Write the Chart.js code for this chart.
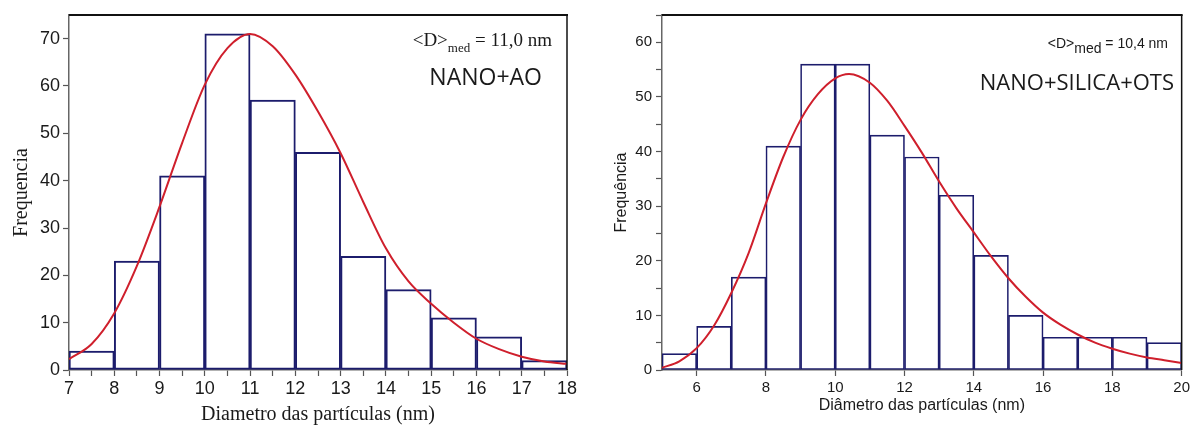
<!DOCTYPE html>
<html>
<head>
<meta charset="utf-8">
<script src="https://cdn.jsdelivr.net/npm/chart.js@4.4.0/dist/chart.umd.min.js"></script>
<style>
    body { margin: 0; background: #fff; }
    canvas { position: absolute; top: 0; }
    #left-chart { left: 0; }
    #right-chart { left: 600px; }
</style>
</head>
<body>
<canvas id="left-chart" width="596" height="428"></canvas>
<canvas id="right-chart" width="593" height="428"></canvas>
<script>
// NANO+AO histogram (bins of 1 nm from 7 to 18)
const binsA = ['7-8', '8-9', '9-10', '10-11', '11-12', '12-13', '13-14', '14-15', '15-16', '16-17', '17-18']
const countsA = [4, 23, 41, 71, 57, 46, 24, 17, 11, 7, 2]
// fitted curve
const fitXA = [7, 7.5, 8, 8.5, 9, 9.5, 10, 10.5, 11, 11.5, 12, 12.5, 13, 13.5, 14, 14.5, 15, 15.5, 16, 16.5, 17, 17.5, 18]
const fitYA = [2.3, 5.5, 12, 22, 34.5, 48, 60.3, 68, 71, 68.4, 62.4, 54.6, 45.8, 35.5, 25.7, 18.7, 14, 10, 6.6, 4.4, 2.8, 1.8, 1.3]

// NANO+SILICA+OTS histogram (bins of 1 nm from 5 to 20)
const binsB = ['5-6', '6-7', '7-8', '8-9', '9-10', '10-11', '11-12', '12-13', '13-14', '14-15', '15-16', '16-17', '17-18', '18-19', '19-20']
const countsB = [3, 8, 17, 41, 56, 56, 43, 39, 32, 21, 10, 6, 6, 6, 5]
const fitXB = [5, 5.5, 6, 6.5, 7, 7.5, 8, 8.5, 9, 9.5, 10, 10.4, 11, 11.5, 12, 12.5, 13, 13.5, 14, 14.5, 15, 15.5, 16, 16.5, 17, 17.5, 18, 18.5, 19, 19.5, 20]
const fitYB = [0.4, 1.6, 4.0, 8.1, 14.1, 21.4, 30.5, 39, 45.8, 50.5, 53.4, 54.2, 52.6, 49.3, 44.7, 39.8, 34.5, 29.6, 25.2, 20.8, 16.8, 13.4, 10.5, 8.3, 6.5, 5.0, 3.9, 3.0, 2.3, 1.8, 1.3]
const xTicksB = [6, 8, 10, 12, 14, 16, 18, 20]

const navy = '#1c1c6c'
const red = '#cf1f2c'
const ink = '#1a1a1a'


function toPoints(xs, ys) {
    return xs.map((x, i) => ({ x: x, y: ys[i] }))
}


/**
 * Draws "<D>med = value nm", right aligned, with med lowered.
 */
function drawMean(ctx, right, base, value, font, subFont, drop) {
    const head = '<D>'
    const sub = 'med'
    const tail = ' = ' + value + ' nm'

    ctx.font = font
    const wHead = ctx.measureText(head).width
    const wTail = ctx.measureText(tail).width
    ctx.font = subFont
    const wSub = ctx.measureText(sub).width

    let x = right - wHead - wSub - wTail
    ctx.textAlign = 'left'
    ctx.textBaseline = 'alphabetic'
    ctx.fillStyle = ink
    ctx.font = font
    ctx.fillText(head, x, base)
    x += wHead
    ctx.font = subFont
    ctx.fillText(sub, x, base + drop)
    x += wSub
    ctx.font = font
    ctx.fillText(tail, x, base)
}


// top and right frame lines plus the text labels
function framePlugin(drawLabels) {
    return {
        id: 'frame',
        afterDraw(chart) {
            const ctx = chart.ctx
            const a = chart.chartArea
            ctx.save()
            ctx.strokeStyle = '#111'
            ctx.lineWidth = 2
            ctx.beginPath()
            ctx.moveTo(a.left, a.top)
            ctx.lineTo(a.right + 1, a.top)
            ctx.stroke()
            ctx.lineWidth = 1.5
            ctx.beginPath()
            ctx.moveTo(a.right, a.top)
            ctx.lineTo(a.right, a.bottom)
            ctx.stroke()
            drawLabels(ctx)
            ctx.restore()
        }
    }
}


function buildChart(id, s) {
    return new Chart(document.getElementById(id), {
        type: 'bar',
        data: {
            labels: s.bins,
            datasets: [
                {
                    data: s.counts,
                    backgroundColor: 'rgba(0,0,0,0)',
                    borderColor: navy,
                    borderWidth: s.barLine,
                    borderSkipped: false,
                    barPercentage: 1,
                    categoryPercentage: 1,
                    grouped: false,
                    order: 1
                },
                {
                    type: 'line',
                    data: toPoints(s.fitX, s.fitY),
                    xAxisID: 'x2',
                    borderColor: red,
                    borderWidth: 2,
                    pointRadius: 0,
                    tension: 0.4,
                    cubicInterpolationMode: 'monotone',
                    fill: false,
                    order: 0
                }
            ]
        },
        options: {
            responsive: false,
            animation: false,
            devicePixelRatio: 1,
            layout: { padding: { left: 0, top: 15, right: s.padRight, bottom: 0 } },
            plugins: {
                legend: { display: false },
                tooltip: { enabled: false }
            },
            scales: {
                x: { type: 'category', display: false, offset: true },
                x2: {
                    type: 'linear',
                    position: 'bottom',
                    min: s.xMin,
                    max: s.xMax,
                    offset: false,
                    afterBuildTicks: s.xTicks,
                    afterFit: (scale) => { scale.height = 58 },
                    ticks: {
                        stepSize: s.xStep,
                        autoSkip: false,
                        maxRotation: 0,
                        padding: s.xPad,
                        color: ink,
                        font: { family: 'Liberation Sans', size: s.tickSize },
                        callback: s.xLabel
                    },
                    grid: { offset: false, drawOnChartArea: false, tickLength: 6, tickColor: '#555', tickWidth: 1.2 },
                    border: { color: '#666', width: 1.5 },
                    title: {
                        display: true,
                        text: s.xTitle,
                        color: ink,
                        font: { family: s.titleFamily, size: s.titleSize },
                        padding: { top: 0, bottom: s.xTitlePad }
                    }
                },
                y: {
                    min: 0,
                    max: s.yMax,
                    afterFit: (scale) => { scale.width = s.yWidth },
                    ticks: {
                        stepSize: 5,
                        padding: s.yPad,
                        color: ink,
                        font: { family: 'Liberation Sans', size: s.tickSize },
                        callback: (v) => v % 10 === 0 ? v : ''
                    },
                    grid: { drawOnChartArea: false, tickLength: 6, tickColor: '#555', tickWidth: 1.2 },
                    border: { color: '#666', width: 1.5 },
                    title: {
                        display: true,
                        text: s.yTitle,
                        color: ink,
                        font: { family: s.titleFamily, size: s.titleSize },
                        padding: { top: s.yTitlePad, bottom: 0 }
                    }
                }
            }
        },
        plugins: [framePlugin(s.labels)]
    })
}


buildChart('left-chart', {
    bins: binsA,
    counts: countsA,
    fitX: fitXA,
    fitY: fitYA,
    barLine: 1.3,
    padRight: 29,
    xMin: 7,
    xMax: 18,
    xStep: 0.5,
    xTicks: undefined,
    xLabel: (v) => Number.isInteger(v) ? v : '',
    xPad: 2,
    yMax: 75,
    yWidth: 69,
    yPad: 3,
    tickSize: 18,
    titleFamily: 'Liberation Serif',
    titleSize: 20,
    xTitle: 'Diametro das partículas (nm)',
    yTitle: 'Frequencia',
    xTitlePad: 1,
    yTitlePad: 10,
    labels: (ctx) => {
        drawMean(ctx, 552, 46, '11,0', '19px "Liberation Serif"', '13px "Liberation Serif"', 6)
        ctx.font = '23px "Open Sans"'
        ctx.textAlign = 'right'
        ctx.fillText('NANO+AO', 542, 85)
    }
})


buildChart('right-chart', {
    bins: binsB,
    counts: countsB,
    fitX: fitXB,
    fitY: fitYB,
    barLine: 1,
    padRight: 10,
    xMin: 5,
    xMax: 20,
    xStep: 1,
    xTicks: (scale) => { scale.ticks = xTicksB.map((v) => ({ value: v })) },
    xLabel: (v) => v,
    xPad: 3,
    yMax: 65,
    yWidth: 62,
    yPad: 4,
    tickSize: 15,
    titleFamily: 'Liberation Sans',
    titleSize: 16,
    xTitle: 'Diâmetro das partículas (nm)',
    yTitle: 'Frequência',
    xTitlePad: 13,
    yTitlePad: 12,
    labels: (ctx) => {
        drawMean(ctx, 568, 48, '10,4', '14px "Liberation Sans"', '14px "Liberation Sans"', 5)
        ctx.font = '22px "Open Sans"'
        ctx.textAlign = 'right'
        ctx.fillText('NANO+SILICA+OTS', 574, 90)
    }
})
</script>
</body>
</html>
